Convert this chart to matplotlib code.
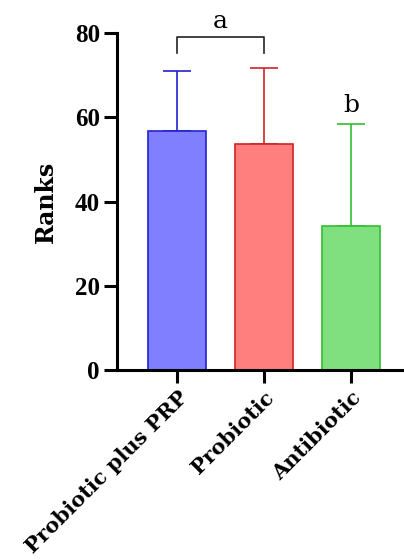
import numpy as np
import matplotlib.pyplot as plt

# данные с графика
groups = ['Probiotic plus PRP', 'Probiotic', 'Antibiotic']
ranks = [56.7, 53.6, 34.2]
errors = [14.4, 18.0, 24.3]
letters = ['a', 'b']

face_colors = ['#7f7fff', '#ff7f7f', '#80e080']
edge_colors = ['#2222d0', '#d02222', '#30c030']

plt.rcParams['font.family'] = ['DejaVu Serif']

fig = plt.figure(figsize=(4.04, 5.6), dpi=100)
ax = fig.add_axes([0.29, 0.339, 0.71, 0.602])

x = np.arange(len(groups))
ax.bar(x, ranks, width=0.66, color=face_colors, edgecolor=edge_colors, linewidth=1.2, zorder=2)

# только верхние усы
for xi, r, e, c in zip(x, ranks, errors, edge_colors):
    ax.errorbar(xi, r, yerr=[[0], [e]], fmt='none', ecolor=c, elinewidth=1.2,
                capsize=10, capthick=1.2, zorder=1)

# скобка над первыми двумя столбцами
ax.plot([0, 0, 1, 1], [75.3, 79.0, 79.0, 75.3], color='#222222', lw=1.2, clip_on=False)
ax.text(0.5, 81.3, letters[0], ha='center', va='baseline', fontsize=18)
ax.text(2, 61.2, letters[1], ha='center', va='baseline', fontsize=18)

ax.set_xlim(-0.69, 2.61)
ax.set_ylim(0, 80)
ax.set_yticks([0, 20, 40, 60, 80])
ax.set_xticks(x)
ax.set_xticklabels(groups, rotation=45, ha='right', rotation_mode='anchor',
                   fontsize=15, fontweight='bold')
ax.set_ylabel('Ranks', fontsize=17, fontweight='bold', labelpad=12)

for lab in ax.get_yticklabels():
    lab.set_fontweight('bold')
    lab.set_fontsize(18)
    lab.set_family('Liberation Serif')

for s in ['top', 'right']:
    ax.spines[s].set_visible(False)
for s in ['left', 'bottom']:
    ax.spines[s].set_linewidth(2.2)
ax.tick_params(axis='both', width=2.2, length=9.5, pad=3)

plt.savefig('out.png', dpi=100)
